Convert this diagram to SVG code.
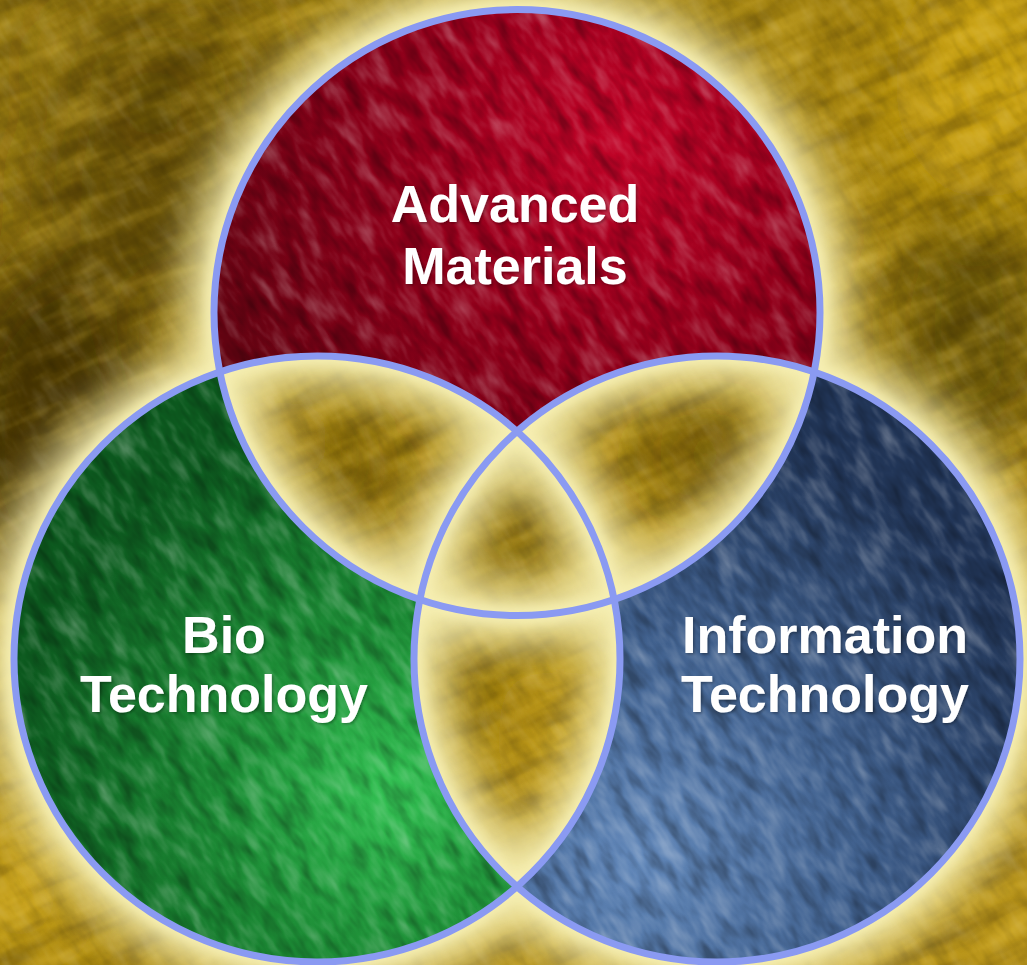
<svg xmlns="http://www.w3.org/2000/svg" xmlns:xlink="http://www.w3.org/1999/xlink" width="1027" height="965" viewBox="0 0 1027 965">
<style>
.lbl{font-family:"Liberation Sans",Arial,sans-serif;font-weight:bold;font-size:52px;fill:#ffffff;text-anchor:middle;filter:url(#shadow)}
.ring{fill:none;stroke:#8a9af2;stroke-width:7}
.glow{fill:none;stroke:#f6efb2}
</style>
<defs>
  <radialGradient id="gRed" gradientUnits="userSpaceOnUse" cx="620" cy="140" r="440">
    <stop offset="0" stop-color="#c20428"/>
    <stop offset="0.5" stop-color="#92001b"/>
    <stop offset="1" stop-color="#640412"/>
  </radialGradient>
  <radialGradient id="gGreen" gradientUnits="userSpaceOnUse" cx="390" cy="790" r="380">
    <stop offset="0" stop-color="#34c254"/>
    <stop offset="0.45" stop-color="#1d8c36"/>
    <stop offset="1" stop-color="#0d5a1f"/>
  </radialGradient>
  <radialGradient id="gBlue" gradientUnits="userSpaceOnUse" cx="640" cy="860" r="440">
    <stop offset="0" stop-color="#6288ba"/>
    <stop offset="0.5" stop-color="#41618e"/>
    <stop offset="1" stop-color="#223658"/>
  </radialGradient>
  <linearGradient id="gBg" x1="0" y1="0" x2="1" y2="1">
    <stop offset="0" stop-color="#927610"/>
    <stop offset="0.5" stop-color="#a4830f"/>
    <stop offset="1" stop-color="#b8941a"/>
  </linearGradient>

  <filter id="soft" x="-50%" y="-50%" width="200%" height="200%">
    <feGaussianBlur stdDeviation="35"/>
  </filter>
  <filter id="glowWide" filterUnits="userSpaceOnUse" x="-100" y="-100" width="1227" height="1165">
    <feGaussianBlur stdDeviation="22"/>
  </filter>
  <filter id="glowTight" filterUnits="userSpaceOnUse" x="-100" y="-100" width="1227" height="1165">
    <feGaussianBlur stdDeviation="6"/>
  </filter>
  <filter id="shadow" x="-10%" y="-20%" width="120%" height="150%">
    <feDropShadow dx="1.5" dy="1.5" stdDeviation="1" flood-color="#000000" flood-opacity="0.3"/>
  </filter>
  <filter id="grainF" x="0" y="0" width="1" height="1" color-interpolation-filters="sRGB">
    <feTurbulence type="fractalNoise" baseFrequency="0.025 0.07" numOctaves="3" seed="7" result="n"/>
    <feColorMatrix in="n" type="matrix" values="0 0 0 0 0  0 0 0 0 0  0 0 0 0 0  -3 0 0 0 1.5" result="d"/>
    <feColorMatrix in="n" type="matrix" values="0 0 0 0 1  0 0 0 0 1  0 0 0 0 1  2.2 0 0 0 -1.1" result="l"/>
    <feMerge><feMergeNode in="d"/><feMergeNode in="l"/></feMerge>
  </filter>
  <filter id="grainG" x="0" y="0" width="1" height="1" color-interpolation-filters="sRGB">
    <feTurbulence type="fractalNoise" baseFrequency="0.012 0.045" numOctaves="3" seed="21" result="n"/>
    <feColorMatrix in="n" type="matrix" values="0 0 0 0 0.18  0 0 0 0 0.12  0 0 0 0 0  -3 0 0 0 1.5" result="d"/>
    <feColorMatrix in="n" type="matrix" values="0 0 0 0 1  0 0 0 0 0.85  0 0 0 0 0.3  2.5 0 0 0 -1.25" result="l"/>
    <feMerge><feMergeNode in="d"/><feMergeNode in="l"/></feMerge>
  </filter>
  <rect id="grainA" x="-250" y="-250" width="1530" height="1470" fill="#000" filter="url(#grainF)" transform="rotate(55 513 482)"/>
  <rect id="grainB" x="-250" y="-250" width="1530" height="1470" fill="#000" filter="url(#grainG)" transform="rotate(-25 513 482)"/>

  <path id="pRed" d="M219.88,371.99 A303,303 0 1 1 814.12,371.99 A303,303 0 0 0 517,431.38 A303,303 0 0 0 219.88,371.99 Z"/>
  <path id="pGreen" d="M219.88,371.99 A303,303 0 1 0 517,886.62 A303,303 0 0 1 419.88,599.61 A303,303 0 0 1 219.88,371.99 Z"/>
  <path id="pBlue" d="M814.12,371.99 A303,303 0 1 1 517,886.62 A303,303 0 0 0 614.12,599.61 A303,303 0 0 0 814.12,371.99 Z"/>
  <clipPath id="cRed"><use xlink:href="#pRed" href="#pRed"/></clipPath>
  <clipPath id="cGreen"><use xlink:href="#pGreen" href="#pGreen"/></clipPath>
  <clipPath id="cBlue"><use xlink:href="#pBlue" href="#pBlue"/></clipPath>
</defs>

<!-- background -->
<g id="background">
  <rect width="1027" height="965" fill="url(#gBg)"/>
  <g filter="url(#soft)">
    <ellipse cx="50" cy="430" rx="100" ry="170" fill="#3a2a05" opacity="0.85"/>
    <ellipse cx="150" cy="190" rx="110" ry="110" fill="#3e3006" opacity="0.55"/>
    <ellipse cx="160" cy="60" rx="110" ry="60" fill="#4a3a08" opacity="0.4"/>
    <ellipse cx="970" cy="330" rx="80" ry="130" fill="#3e3006" opacity="0.6"/>
    <ellipse cx="330" cy="470" rx="55" ry="45" fill="#3e3006" opacity="0.55"/>
    <ellipse cx="705" cy="455" rx="55" ry="45" fill="#3a2c05" opacity="0.6"/>
    <ellipse cx="517" cy="525" rx="45" ry="55" fill="#4a3a08" opacity="0.45"/>
    <ellipse cx="480" cy="680" rx="30" ry="60" fill="#5a4410" opacity="0.4"/>
    <ellipse cx="985" cy="80" rx="90" ry="120" fill="#d4aa14" opacity="0.7"/>
    <ellipse cx="20" cy="880" rx="60" ry="90" fill="#d8b020" opacity="0.6"/>
    <ellipse cx="560" cy="740" rx="40" ry="70" fill="#d0a820" opacity="0.6"/>
    <ellipse cx="270" cy="440" rx="40" ry="40" fill="#d0a820" opacity="0.5"/>
  </g>
  <use xlink:href="#grainB" href="#grainB" opacity="0.3"/>
  <use xlink:href="#grainA" href="#grainA" opacity="0.12"/>
</g>

<!-- glow around rings -->
<g id="glow">
  <g filter="url(#glowWide)" opacity="0.95">
    <circle class="glow" cx="517" cy="312.6" r="303" stroke-width="60"/>
    <circle class="glow" cx="317" cy="659" r="303" stroke-width="60"/>
    <circle class="glow" cx="717" cy="659" r="303" stroke-width="60"/>
  </g>
  <g filter="url(#glowTight)">
    <circle class="glow" cx="517" cy="312.6" r="303" stroke-width="18"/>
    <circle class="glow" cx="317" cy="659" r="303" stroke-width="18"/>
    <circle class="glow" cx="717" cy="659" r="303" stroke-width="18"/>
  </g>
</g>

<g id="node-advanced-materials">
  <use xlink:href="#pRed" href="#pRed" fill="url(#gRed)"/>
  <g clip-path="url(#cRed)" opacity="0.3"><use xlink:href="#grainA" href="#grainA"/></g>
  <text class="lbl" x="515" y="222">Advanced</text>
  <text class="lbl" x="515" y="284">Materials</text>
</g>

<g id="node-bio-technology">
  <use xlink:href="#pGreen" href="#pGreen" fill="url(#gGreen)"/>
  <g clip-path="url(#cGreen)" opacity="0.3"><use xlink:href="#grainA" href="#grainA"/></g>
  <text class="lbl" x="224" y="653">Bio</text>
  <text class="lbl" x="224" y="712">Technology</text>
</g>

<g id="node-information-technology">
  <use xlink:href="#pBlue" href="#pBlue" fill="url(#gBlue)"/>
  <g clip-path="url(#cBlue)" opacity="0.3"><use xlink:href="#grainA" href="#grainA"/></g>
  <text class="lbl" x="825" y="653">Information</text>
  <text class="lbl" x="825" y="712">Technology</text>
</g>

<g id="connectors">
  <circle class="ring" cx="517" cy="312.6" r="303"/>
  <circle class="ring" cx="317" cy="659" r="303"/>
  <circle class="ring" cx="717" cy="659" r="303"/>
</g>
</svg>
